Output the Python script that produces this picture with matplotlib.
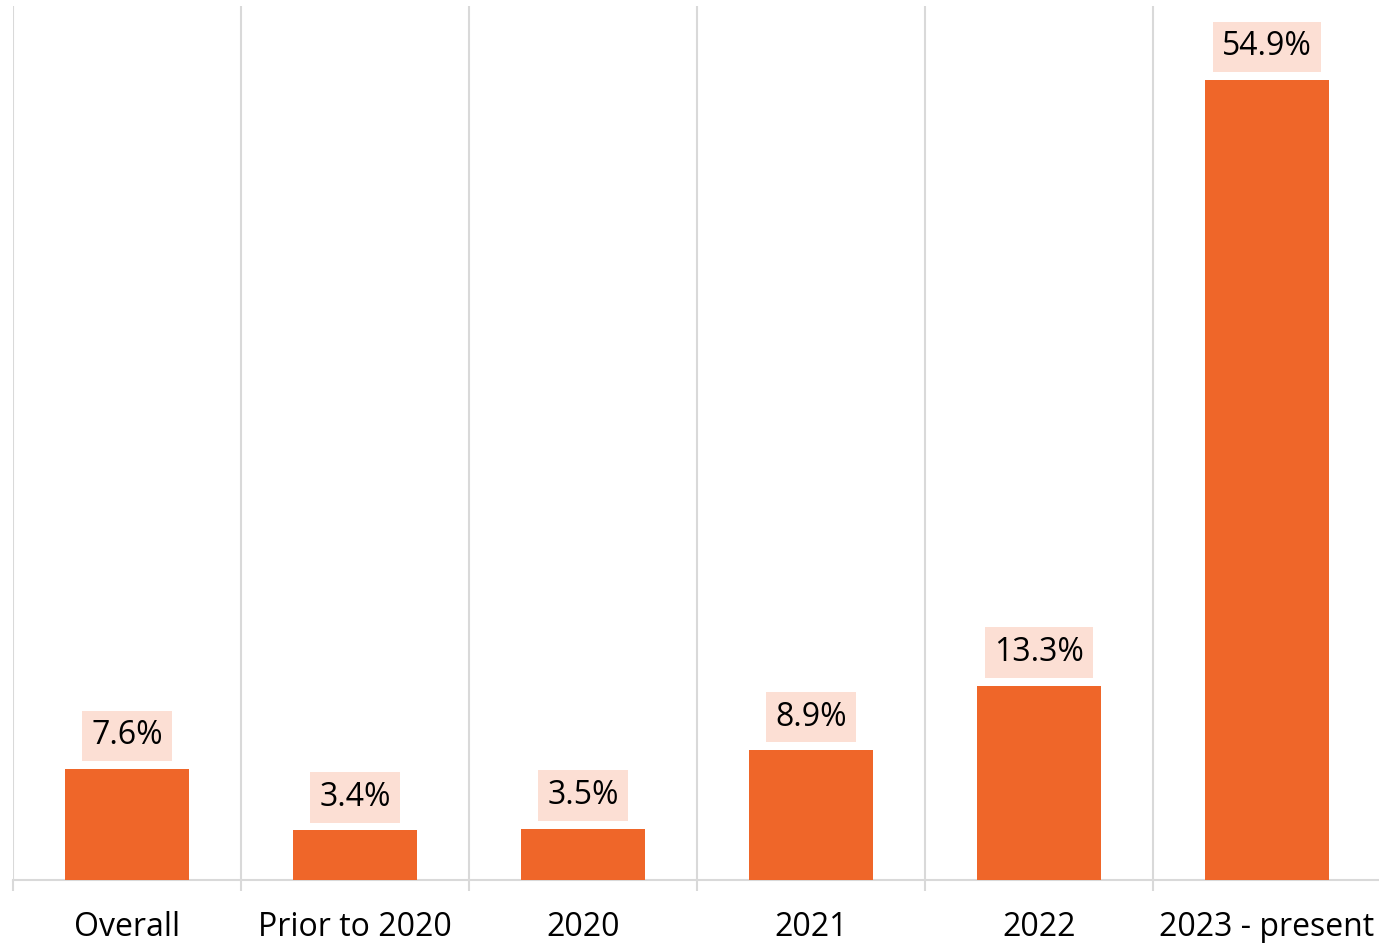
import matplotlib.pyplot as plt
import numpy as np

# data
categories = ['Overall', 'Prior to 2020', '2020', '2021', '2022', '2023 - present']
values = [7.6, 3.4, 3.5, 8.9, 13.3, 54.9]
labels = ['7.6%', '3.4%', '3.5%', '8.9%', '13.3%', '54.9%']

plt.rcParams['font.family'] = ['Open Sans', 'DejaVu Sans']

fig = plt.figure(figsize=(13.79, 9.43), dpi=100)
ax = fig.add_axes([13/1379, 63/943, 1368/1379, 874/943])

x = np.arange(len(categories))
ax.bar(x, values, width=0.544, color='#EF6629', zorder=3)

# value labels with light boxes
for xi, v, lab in zip(x, values, labels):
    ax.annotate(lab, (xi, v), xytext=(0, 24), textcoords='offset points',
                ha='center', va='center', fontsize=23, color='black',
                bbox=dict(boxstyle='square,pad=0.28', fc='#FCDFD4', ec='none'),
                zorder=4)

ax.set_xlim(-0.5, len(categories) - 0.5)
ax.set_ylim(0, 60)

# separators between categories
for b in np.arange(len(categories) + 1) - 0.5:
    ax.axvline(b, color='#D9D9D9', lw=1.5, zorder=1)

for s in ['top', 'right', 'left']:
    ax.spines[s].set_visible(False)
ax.spines['bottom'].set_color('#D9D9D9')
ax.spines['bottom'].set_linewidth(1.5)

ax.set_yticks([])
ax.set_xticks(x)
ax.set_xticklabels(categories, fontsize=23)
ax.tick_params(axis='x', which='major', length=0, pad=22.5)
ax.set_xticks(np.arange(len(categories) + 1) - 0.5, minor=True)
ax.tick_params(axis='x', which='minor', length=8, width=1.5, color='#D9D9D9')

fig.savefig('out.png', dpi=100)
